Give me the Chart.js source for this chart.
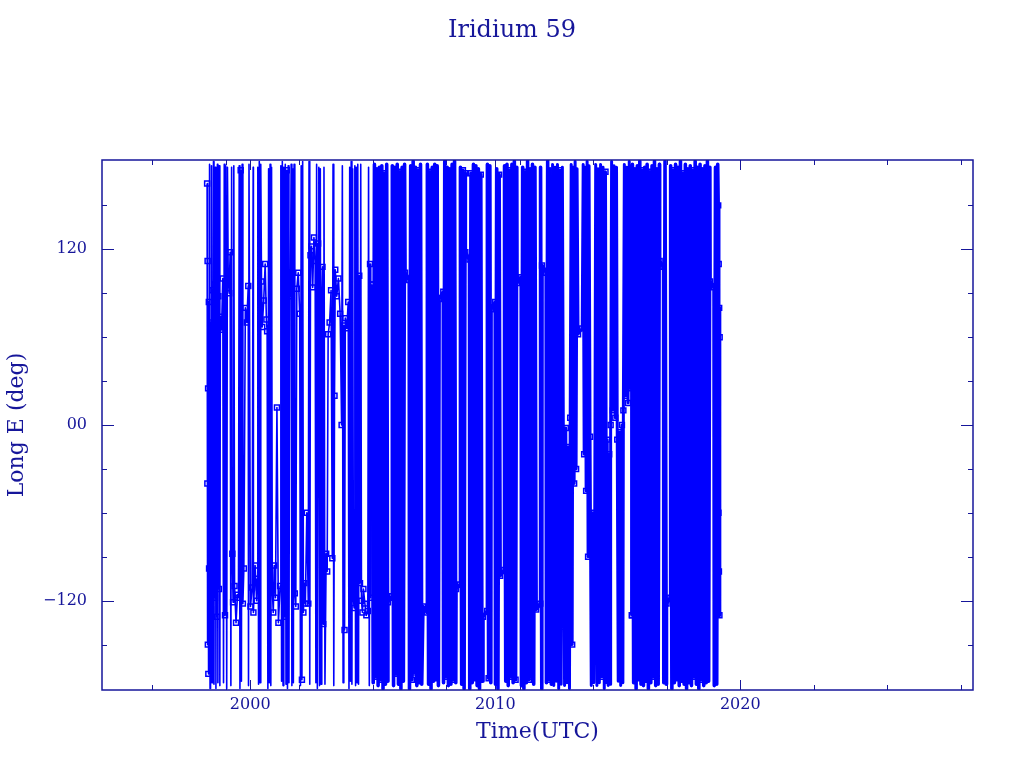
<!DOCTYPE html>
<html>
<head>
<meta charset="utf-8">
<title>Iridium 59</title>
<script src="https://cdn.jsdelivr.net/npm/chart.js@4.4.1/dist/chart.umd.min.js"></script>
<style>
    html, body { margin: 0; padding: 0; background: #ffffff; }
    .chart-box { width: 1024px; height: 768px; position: relative; }
</style>
</head>
<body>
<div class="chart-box"><canvas id="longChart"></canvas></div>
<script>
// Tick positions
const yMajor = [-120, 0, 120];
const yMinor = [-150, -90, -60, -30, 30, 60, 90, 150];
const xMajor = [2000, 2010, 2020];
const xMinor = [1996, 1999, 2002, 2005, 2008, 2011, 2014, 2017, 2020, 2023, 2026, 2029];

// 1998 - 2005, sparse tracking
const sparseYears = [
    1998.24, 1998.25, 1998.26, 1998.27, 1998.28, 1998.29, 1998.31, 1998.32, 1998.34, 1998.36,
    1998.38, 1998.40, 1998.42, 1998.44, 1998.46, 1998.48, 1998.50, 1998.52, 1998.54, 1998.56,
    1998.58, 1998.60, 1998.62, 1998.64, 1998.66, 1998.68, 1998.70, 1998.72, 1998.74, 1998.76,
    1998.78, 1998.83, 1998.88, 1998.91, 1998.94, 1998.97, 1999.00, 1999.04, 1999.07, 1999.10,
    1999.14, 1999.18, 1999.21, 1999.24, 1999.27, 1999.30, 1999.33, 1999.36, 1999.42, 1999.48,
    1999.52, 1999.55, 1999.58, 1999.61, 1999.64, 1999.67, 1999.70, 1999.74, 1999.80, 1999.86,
    1999.92, 1999.93, 1999.95, 2000.01, 2000.08, 2000.12, 2000.13, 2000.20, 2000.26, 2000.29,
    2000.31, 2000.34, 2000.37, 2000.40, 2000.43, 2000.46, 2000.49, 2000.55, 2000.61, 2000.66,
    2000.69, 2000.72, 2000.75, 2000.78, 2000.81, 2000.84, 2000.87, 2000.90, 2000.94, 2000.98,
    2001.03, 2001.09, 2001.15, 2001.22, 2001.25, 2001.28, 2001.31, 2001.34, 2001.37, 2001.40,
    2001.43, 2001.46, 2001.49, 2001.52, 2001.55, 2001.58, 2001.61, 2001.64, 2001.67, 2001.70,
    2001.73, 2001.76, 2001.79, 2001.82, 2001.86, 2001.90, 2001.96, 2002.02, 2002.05, 2002.08,
    2002.11, 2002.14, 2002.17, 2002.21, 2002.25, 2002.31, 2002.37, 2002.40, 2002.43, 2002.46,
    2002.50, 2002.55, 2002.60, 2002.65, 2002.68, 2002.71, 2002.74, 2002.77, 2002.80, 2002.83,
    2002.86, 2002.89, 2002.92, 2002.95, 2002.98, 2003.01, 2003.05, 2003.10, 2003.14, 2003.18,
    2003.24, 2003.30, 2003.35, 2003.38, 2003.41, 2003.44, 2003.47, 2003.53, 2003.60, 2003.67,
    2003.73, 2003.76, 2003.79, 2003.82, 2003.85, 2003.88, 2003.94, 2004.00, 2004.03, 2004.06,
    2004.09, 2004.12, 2004.15, 2004.18, 2004.21, 2004.24, 2004.27, 2004.30, 2004.33, 2004.36,
    2004.39, 2004.42, 2004.45, 2004.48, 2004.51, 2004.54, 2004.58, 2004.62, 2004.68, 2004.74,
    2004.80, 2004.83, 2004.86, 2004.89, 2004.92, 2004.95
];
const sparseLong = [
    165, -40, 112, -150, 25, -170, 84, -98, 178, -180,
    70, -126, 177, -176, 92, -108, 180, -177, 96, -118,
    176, -180, 78, -131, 178, -176, 88, -112, 177, -178,
    74, 65, 100, -176, 178, -130, 177, -180, 176, 105,
    90, 118, -178, 176, -88, -121, 177, -110, -135, -116,
    -118, 177, -180, 174, -175, 178, -122, -98, 80, 70,
    95, -178, 178, -124, -111, 176, -128, -96, -120, -105,
    176, -177, 180, -176, 178, 98, 67, 85, 110, 72,
    64, -180, 175, -176, 178, -178, 176, -112, -128, -96,
    -118, 12, -135, -110, 177, -175, 180, -178, 176, -131,
    178, -177, 174, -180, 177, -176, 102, 88, 178, -178,
    175, -176, 178, -115, -124, 93, 104, 76, -178, 177,
    -174, 180, -128, -108, -122, -60, -122, 180, -177, 116,
    122, 94, 128, 112, -176, 178, -180, 124, 176, -178,
    175, -177, 84, 108, -136, 176, -177, -88, -100, 62,
    70, 92, -91, 178, -178, 20, 106, 88, 100, 76,
    0, 177, -176, 68, -140, 73, 66, 84, -180, 176,
    -175, 180, -177, 175, -118, -125, 177, -178, 176, -176,
    178, -177, 102, -108, 178, -120, -128, -112, -122, -130,
    -127, 176, -178, 110, -118, 96
];

// 2005 - 2012, dense drift
const denseYears = [
    2004.98, 2005.02, 2005.07, 2005.12, 2005.17, 2005.22, 2005.27, 2005.32, 2005.37, 2005.42,
    2005.47, 2005.52, 2005.57, 2005.61, 2005.62, 2005.79, 2005.80, 2005.85, 2005.90, 2005.95,
    2006.00, 2006.05, 2006.10, 2006.15, 2006.20, 2006.25, 2006.30, 2006.32, 2006.49, 2006.50,
    2006.55, 2006.60, 2006.65, 2006.70, 2006.75, 2006.80, 2006.85, 2006.90, 2006.95, 2007.00,
    2007.05, 2007.22, 2007.23, 2007.28, 2007.33, 2007.38, 2007.43, 2007.48, 2007.53, 2007.58,
    2007.63, 2007.68, 2007.71, 2007.88, 2007.89, 2007.94, 2007.99, 2008.04, 2008.09, 2008.14,
    2008.19, 2008.24, 2008.29, 2008.34, 2008.39, 2008.40, 2008.57, 2008.58, 2008.63, 2008.68,
    2008.73, 2008.77, 2008.78, 2008.95, 2008.96, 2009.01, 2009.06, 2009.11, 2009.16, 2009.21,
    2009.26, 2009.31, 2009.36, 2009.41, 2009.46, 2009.50, 2009.67, 2009.68, 2009.73, 2009.78,
    2009.82, 2009.83, 2010.00, 2010.01, 2010.06, 2010.11, 2010.16, 2010.20, 2010.37, 2010.38,
    2010.43, 2010.48, 2010.53, 2010.58, 2010.63, 2010.68, 2010.73, 2010.78, 2010.83, 2010.88,
    2010.89, 2011.06, 2011.07, 2011.12, 2011.17, 2011.22, 2011.27, 2011.32, 2011.37, 2011.42,
    2011.47, 2011.52, 2011.57, 2011.62, 2011.67, 2011.84, 2011.85, 2011.90, 2011.91, 2012.08,
    2012.09, 2012.14, 2012.19, 2012.24, 2012.29, 2012.31
];
const denseLong = [
    96, -176, 178, -172, 175, -178, 176, -174, 177, -180,
    172, -177, 178, -175, -121, -117, 177, -178, 176, -170,
    178, -177, 173, -180, 176, -175, 178, 104, 99, -180,
    177, -174, 180, -169, 176, -178, 174, -176, 178, -177,
    -124, -128, 178, -177, 173, -180, 176, -175, 178, -173,
    177, -178, 86, 91, -176, 180, -172, 176, -178, 175,
    -177, 178, -174, 180, -176, -112, -109, 176, -177, 174,
    -180, 172, 118, 113, -180, 172, -176, 178, -173, 177,
    -178, 175, -180, 171, -175, -131, -127, 178, -173, 177,
    -176, 79, 84, -177, 175, -180, 171, -103, -99, 177,
    -175, 178, -178, 174, -172, 178, -176, 180, -174, 176,
    97, 101, -178, 176, -180, 173, -176, 180, -174, 175,
    -172, 178, -177, 176, -126, -122, 176, -180, 109, 104,
    -176, 180, -174, 175, -177, -125
];

// 2012 - 2015, broken coverage
const midYears = [
    2012.31, 2012.34, 2012.39, 2012.44, 2012.49, 2012.54, 2012.59, 2012.64, 2012.69, 2012.74,
    2012.78, 2012.83, 2012.88, 2012.93, 2012.98, 2013.03, 2013.06, 2013.10, 2013.14, 2013.18,
    2013.22, 2013.26, 2013.30, 2013.34, 2013.38, 2013.55, 2013.59, 2013.63, 2013.67, 2013.71,
    2013.75, 2013.79, 2013.83, 2013.87, 2013.92, 2013.97, 2014.02, 2014.06, 2014.10, 2014.15,
    2014.20, 2014.25, 2014.30, 2014.35, 2014.40, 2014.45, 2014.50, 2014.55, 2014.57, 2014.61,
    2014.65, 2014.69, 2014.71, 2014.75, 2014.80, 2014.85, 2014.90, 2014.95, 2014.98, 2015.02,
    2015.07, 2015.12, 2015.17, 2015.21, 2015.23, 2015.27, 2015.32, 2015.37, 2015.42, 2015.47,
    2015.52, 2015.56, 2015.58
];
const midLong = [
    -125, 178, -178, 176, -175, 178, -180, 174, -177, 176,
    -5, -178, -2, -176, -15, -180, 5, 178, -150, 176,
    -40, 180, -30, 175, 62, 66, 178, -20, 176, -45,
    180, -90, 177, -8, -178, -60, -176, -70, 178, -178,
    175, -176, 178, -172, 176, -180, 173, -176, -10, -178,
    -20, -177, 0, 180, 10, 177, 5, 176, -10, -175,
    -5, -178, 0, -176, 10, 178, 20, 176, 15, 180,
    25, 177, -130
];

// 2015 - 2019, dense drift until re-entry
const lateYears = [
    2015.58, 2015.60, 2015.65, 2015.70, 2015.75, 2015.80, 2015.85, 2015.90, 2015.95, 2016.00,
    2016.05, 2016.10, 2016.15, 2016.20, 2016.25, 2016.30, 2016.35, 2016.40, 2016.45, 2016.50,
    2016.55, 2016.60, 2016.65, 2016.70, 2016.71, 2016.87, 2016.88, 2016.93, 2016.98, 2016.99,
    2017.15, 2017.16, 2017.21, 2017.26, 2017.31, 2017.36, 2017.41, 2017.46, 2017.51, 2017.56,
    2017.61, 2017.66, 2017.71, 2017.76, 2017.81, 2017.86, 2017.91, 2017.96, 2018.01, 2018.06,
    2018.11, 2018.16, 2018.21, 2018.26, 2018.31, 2018.36, 2018.41, 2018.46, 2018.51, 2018.56,
    2018.61, 2018.66, 2018.71, 2018.76, 2018.77, 2018.93, 2018.94, 2018.99, 2019.04, 2019.08,
    2019.10, 2019.11, 2019.12, 2019.13, 2019.14, 2019.15, 2019.16
];
const lateLong = [
    -130, 178, -176, 175, -180, 177, -173, 180, -177, 174,
    -178, 176, -175, 178, -180, 173, -176, 177, -172, 180,
    -178, 175, -177, 178, 112, 108, -176, 180, -177, -122,
    -118, 177, -180, 174, -176, 178, -173, 176, -178, 180,
    -175, 172, -177, 178, -180, 175, -176, 177, -178, 174,
    -172, 180, -177, 176, -180, 178, -174, 175, -178, 177,
    -176, 180, -175, 176, 98, 94, -178, 176, -177, 178,
    150, -60, 110, -100, 80, -130, 60
];

const lineColor = '#0000ff';
const axisColor = '#16169a';

function toPoints(years, longs) {
    return years.map((t, i) => ({ x: t, y: longs[i] }));
}

function makeSet(years, longs, width) {
    return {
        data: toPoints(years, longs),
        showLine: true,
        borderColor: lineColor,
        borderWidth: width,
        borderJoinStyle: 'round',
        tension: 0,
        pointStyle: 'rect',
        pointRadius: c => Math.abs(c.raw.y) >= 175 ? 0 : 3.5,
        pointBorderWidth: 1.5,
        pointBorderColor: lineColor,
        pointBackgroundColor: 'rgba(0,0,0,0)'
    };
}

// Frame with inward tick marks on all four sides
const frameTicks = {
    id: 'frameTicks',
    beforeDatasetsDraw(chart) {
        const { ctx, chartArea: a, scales: { x, y } } = chart;
        ctx.save();
        ctx.strokeStyle = axisColor;
        ctx.lineWidth = 1;
        ctx.beginPath();
        const yTick = (v, len) => {
            const py = Math.round(y.getPixelForValue(v)) + 0.5;
            ctx.moveTo(a.left, py); ctx.lineTo(a.left + len, py);
            ctx.moveTo(a.right, py); ctx.lineTo(a.right - len, py);
        };
        const xTick = (v, len) => {
            const px = Math.round(x.getPixelForValue(v)) + 0.5;
            ctx.moveTo(px, a.bottom); ctx.lineTo(px, a.bottom - len);
            ctx.moveTo(px, a.top); ctx.lineTo(px, a.top + len);
        };
        yMajor.forEach(v => yTick(v, 12));
        yMinor.forEach(v => yTick(v, 5));
        xMajor.forEach(v => xTick(v, 10));
        xMinor.forEach(v => xTick(v, 5));
        ctx.stroke();
        ctx.restore();
    },
    afterDatasetsDraw(chart) {
        const { ctx, chartArea: a } = chart;
        ctx.save();
        ctx.strokeStyle = axisColor;
        ctx.lineWidth = 1.5;
        ctx.strokeRect(a.left, a.top, a.right - a.left, a.bottom - a.top);
        ctx.restore();
    }
};

document.addEventListener('DOMContentLoaded', function() {
    const longCtx = document.getElementById('longChart').getContext('2d');
    const longChart = new Chart(longCtx, {
        type: 'scatter',
        data: {
            datasets: [
                makeSet(sparseYears, sparseLong, 1.6),
                makeSet(denseYears, denseLong, 3.6),
                makeSet(midYears, midLong, 3),
                makeSet(lateYears, lateLong, 3.6)
            ]
        },
        options: {
            responsive: true,
            maintainAspectRatio: false,
            animation: false,
            events: [],
            layout: {
                padding: 0
            },
            plugins: {
                legend: { display: false },
                tooltip: { enabled: false },
                title: {
                    display: true,
                    text: 'Iridium 59',
                    color: axisColor,
                    font: { family: 'DejaVu Serif', size: 24, weight: 'normal' },
                    padding: { top: 16, bottom: 115.2 }
                }
            },
            scales: {
                x: {
                    type: 'linear',
                    position: 'bottom',
                    min: 1993.95,
                    max: 2029.5,
                    grid: { display: false, drawTicks: false },
                    border: { display: false },
                    afterBuildTicks: s => { s.ticks = xMajor.map(v => ({ value: v })); },
                    afterFit: s => { s.height = 78; },
                    ticks: {
                        color: axisColor,
                        padding: 5,
                        maxRotation: 0,
                        autoSkip: false,
                        font: { family: 'DejaVu Serif', size: 16 },
                        callback: v => String(v)
                    },
                    title: {
                        display: true,
                        text: 'Time(UTC)',
                        color: axisColor,
                        font: { family: 'DejaVu Serif', size: 22 },
                        padding: { top: 0, bottom: 23 }
                    }
                },
                y: {
                    min: -181,
                    max: 181,
                    grid: { display: false, drawTicks: false },
                    border: { display: false },
                    afterBuildTicks: s => { s.ticks = yMajor.map(v => ({ value: v })); },
                    afterFit: s => { s.width = 102; },
                    ticks: {
                        color: axisColor,
                        padding: 15,
                        autoSkip: false,
                        font: { family: 'DejaVu Serif', size: 16 },
                        callback: v => v === 0 ? '00' : (v < 0 ? '\u2212' + Math.abs(v) : String(v))
                    },
                    title: {
                        display: true,
                        text: 'Long E (deg)',
                        color: axisColor,
                        font: { family: 'DejaVu Serif', size: 22 },
                        padding: { top: 4, bottom: 0 }
                    }
                },
                // empty right axis, only reserves the right margin
                yRight: {
                    position: 'right',
                    min: -181,
                    max: 181,
                    grid: { display: false, drawTicks: false },
                    border: { display: false },
                    ticks: { display: false },
                    afterFit: s => { s.width = 51; }
                }
            }
        },
        plugins: [frameTicks]
    });
});
</script>
</body>
</html>
